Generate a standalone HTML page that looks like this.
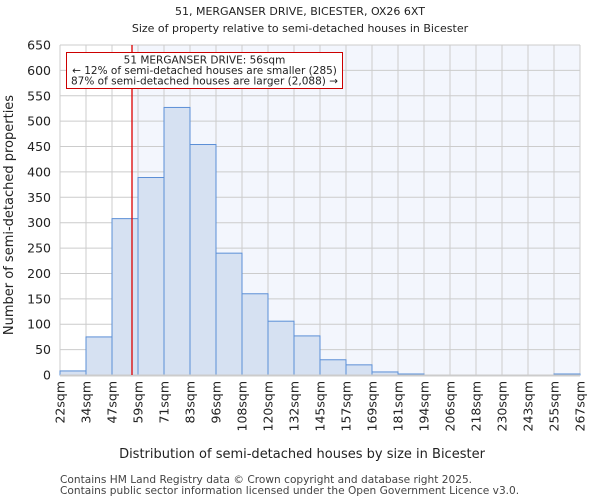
<!DOCTYPE html>
<html><head><meta charset="utf-8"><style>
body{margin:0;background:#fff;font-family:"DejaVu Sans","Liberation Sans",sans-serif;}
svg text{font-family:"DejaVu Sans","Liberation Sans",sans-serif;}
</style></head><body>
<svg id="chart" width="600" height="500" xmlns="http://www.w3.org/2000/svg">
<text x="300" y="15" text-anchor="middle" font-size="11" fill="#222">51, MERGANSER DRIVE, BICESTER, OX26 6XT</text>
<text x="300" y="32" text-anchor="middle" font-size="11" fill="#222">Size of property relative to semi-detached houses in Bicester</text>
<g id="plot"></g>
<text x="302" y="458" text-anchor="middle" font-size="13" fill="#222">Distribution of semi-detached houses by size in Bicester</text>
<text transform="translate(13,215) rotate(-90)" text-anchor="middle" font-size="13" fill="#222">Number of semi-detached properties</text>
<text x="60" y="483" font-size="10.6" fill="#444">Contains HM Land Registry data © Crown copyright and database right 2025.</text>
<text x="60" y="494" font-size="10.6" fill="#444">Contains public sector information licensed under the Open Government Licence v3.0.</text>
</svg>
<script>
const binLabels=["22sqm","34sqm","47sqm","59sqm","71sqm","83sqm","96sqm","108sqm","120sqm","132sqm","145sqm","157sqm","169sqm","181sqm","194sqm","206sqm","218sqm","230sqm","243sqm","255sqm","267sqm"];
const binEdges=[22,34,47,59,71,83,96,108,120,132,145,157,169,181,194,206,218,230,243,255,267];
const counts=[8,75,308,389,527,454,240,160,106,77,30,20,6,2,0,0,0,0,0,2];
const yTicks=[0,50,100,150,200,250,300,350,400,450,500,550,600,650];
const markerValue=56;
const NS="http://www.w3.org/2000/svg";
const L=60,R=580,T=45,B=375,yMax=650;
const n=counts.length,bw=(R-L)/n;
function xIdx(i){return L+i*bw;}
function xVal(v){for(let i=0;i<binEdges.length-1;i++){if(v<=binEdges[i+1]){return xIdx(i)+bw*(v-binEdges[i])/(binEdges[i+1]-binEdges[i]);}}return R;}
function y(v){return B-(v/yMax)*(B-T);}
const g=document.getElementById('plot');
function mk(t,a){const e=document.createElementNS(NS,t);for(const k in a)e.setAttribute(k,a[k]);g.appendChild(e);return e;}
const mx=xVal(markerValue);
let bg=mk('rect',{x:L,y:T,width:R-L,height:B-T,fill:'#ffffff'});


let bg2=mk('rect',{x:mx,y:T,width:R-mx,height:B-T,fill:'#f3f6fd'});


yTicks.forEach(t=>{
 let l=mk('line',{x1:L,x2:R,y1:y(t),y2:y(t),stroke:'#cccccc','stroke-width':1});
 
 
 let tx=mk('text',{x:L-9,y:y(t)+4.5,'text-anchor':'end','font-size':12.5,fill:'#222'});
 tx.textContent=t;
 
 
});
binLabels.forEach((s,i)=>{
 let l=mk('line',{x1:xIdx(i),x2:xIdx(i),y1:T,y2:B,stroke:'#cccccc','stroke-width':1});
 
 
 let tx=mk('text',{transform:`translate(${xIdx(i)+4.5},${B+6}) rotate(-90)`,'text-anchor':'end','font-size':12.5,fill:'#222'});
 tx.textContent=s;
 
 
});
counts.forEach((c,i)=>{
 let r=mk('rect',{x:xIdx(i),y:y(c),width:bw,height:B-y(c),fill:'#d6e1f2',stroke:'#5b8fd6','stroke-width':1});
 
 
});
let ax=mk('line',{x1:L,x2:R,y1:B+0.5,y2:B+0.5,stroke:'#cccccc','stroke-width':2});


let ml=mk('line',{x1:mx+0.5,x2:mx+0.5,y1:T,y2:B,stroke:'#dd0000','stroke-width':1.3});


let box=mk('rect',{x:66.5,y:52.5,width:276,height:36,fill:'#fff',stroke:'#cc0000','stroke-width':1});


["51 MERGANSER DRIVE: 56sqm","← 12% of semi-detached houses are smaller (285)","87% of semi-detached houses are larger (2,088) →"].forEach((s,i)=>{
 let t=mk('text',{x:204.5,y:63.5+i*10.5,'text-anchor':'middle','font-size':10.5,fill:'#222'});
 t.textContent=s;
 
 
});
</script>
</body></html>
